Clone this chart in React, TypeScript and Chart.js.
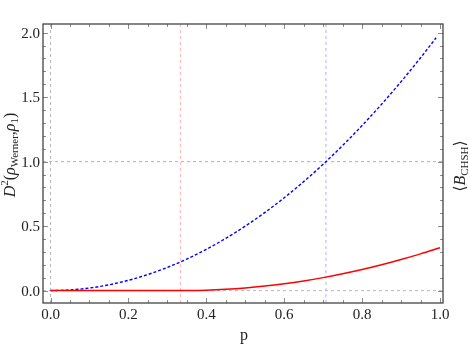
import React, { useEffect, useRef } from "react";
import { Chart, registerables } from "chart.js";

Chart.register(...registerables);

// ---- data ----
const blueP = [0, 0.05, 0.1, 0.15, 0.2, 0.25, 0.3, 0.35, 0.4, 0.45, 0.5, 0.55, 0.6, 0.65, 0.7, 0.75, 0.8, 0.85, 0.9, 0.95, 0.99];
const blueD = [0, 0.005, 0.02, 0.045, 0.08, 0.125, 0.18, 0.245, 0.32, 0.405, 0.5, 0.605, 0.72, 0.845, 0.98, 1.125, 1.28, 1.445, 1.62, 1.805, 1.96];
const redP = [0, 0.1, 0.2, 0.3, 0.333, 0.35, 0.4, 0.45, 0.5, 0.55, 0.6, 0.65, 0.7, 0.75, 0.8, 0.85, 0.9, 0.95, 1.0];
const redD = [0, 0, 0, 0, 0, 0.0002, 0.0033, 0.0102, 0.0208, 0.0352, 0.0533, 0.0752, 0.1008, 0.13, 0.163, 0.2, 0.241, 0.285, 0.333];
const refVertical = [0, 0.3333, 0.7071];
const refHorizontal = [0, 1];
const xTickLabels = ["0.0", "0.2", "0.4", "0.6", "0.8", "1.0"];
const xTickValues = [0, 0.2, 0.4, 0.6, 0.8, 1.0];
const yTickLabels = ["0.0", "0.5", "1.0", "1.5", "2.0"];
const yTickValues = [0, 0.5, 1.0, 1.5, 2.0];

const X_MIN = -0.0193;
const X_MAX = 1.0077;
const Y_MIN = -0.096;
const Y_MAX = 2.067;

const SERIF = '"Liberation Serif", "Times New Roman", "DejaVu Serif", serif';

function drawPieces(ctx: CanvasRenderingContext2D, pieces: { t: string; font: string; dy: number }[], cx: number, cy: number) {
  let total = 0;
  const widths = pieces.map((p) => {
    ctx.font = p.font;
    const w = ctx.measureText(p.t).width;
    total += w;
    return w;
  });
  ctx.save();
  ctx.translate(cx, cy);
  ctx.rotate(-Math.PI / 2);
  ctx.textBaseline = "alphabetic";
  ctx.textAlign = "left";
  ctx.fillStyle = "#222";
  let x = -total / 2;
  pieces.forEach((p, i) => {
    ctx.font = p.font;
    ctx.fillText(p.t, x, 5 + p.dy);
    x += widths[i];
  });
  ctx.restore();
}

const framePlugin = {
  id: "framePlugin",
  afterDraw(chart: any) {
    const ctx: CanvasRenderingContext2D = chart.ctx;
    const { left, right, top, bottom } = chart.chartArea;
    const xs = chart.scales.x;
    const ys = chart.scales.y;
    ctx.save();
    // ticks
    ctx.strokeStyle = "#8a8a8a";
    ctx.lineWidth = 1;
    for (let i = 0; i <= 20; i++) {
      const v = i * 0.05;
      const px = Math.round(xs.getPixelForValue(v)) + 0.5;
      const major = i % 4 === 0;
      const len = major ? 5 : 3;
      ctx.beginPath();
      ctx.moveTo(px, bottom);
      ctx.lineTo(px, bottom - len);
      ctx.moveTo(px, top);
      ctx.lineTo(px, top + len);
      ctx.stroke();
    }
    for (let i = 0; i <= 20; i++) {
      const v = i * 0.1;
      const py = Math.round(ys.getPixelForValue(v)) + 0.5;
      const major = i % 5 === 0;
      const len = major ? 5 : 3;
      ctx.beginPath();
      ctx.moveTo(left, py);
      ctx.lineTo(left + len, py);
      ctx.moveTo(right, py);
      ctx.lineTo(right - len, py);
      ctx.stroke();
    }
    // frame
    ctx.strokeStyle = "#444";
    ctx.lineWidth = 1.3;
    ctx.strokeRect(left, top, right - left, bottom - top);

    // tick labels
    ctx.fillStyle = "#222";
    ctx.font = "15px " + SERIF;
    ctx.textAlign = "center";
    ctx.textBaseline = "middle";
    xTickValues.forEach((v, i) => {
      ctx.fillText(xTickLabels[i], xs.getPixelForValue(v), 315);
    });
    ctx.textAlign = "right";
    yTickValues.forEach((v, i) => {
      ctx.fillText(yTickLabels[i], left - 3, ys.getPixelForValue(v) + 1);
    });

    // x title
    ctx.font = "16px " + SERIF;
    ctx.textAlign = "center";
    ctx.textBaseline = "alphabetic";
    ctx.fillText("p", 244, 340);

    // left title
    drawPieces(
      ctx,
      [
        { t: "D", font: "italic 16px " + SERIF, dy: 0 },
        { t: "2", font: "11px " + SERIF, dy: -7 },
        { t: "(", font: "16px " + SERIF, dy: 0 },
        { t: "ρ", font: "italic 16px " + SERIF, dy: 0 },
        { t: "Werner", font: "11px " + SERIF, dy: 3 },
        { t: ",", font: "16px " + SERIF, dy: 0 },
        { t: "ρ", font: "italic 16px " + SERIF, dy: 0 },
        { t: "1", font: "11px " + SERIF, dy: 3 },
        { t: ")", font: "16px " + SERIF, dy: 0 },
      ],
      10,
      155
    );
    // right title
    drawPieces(
      ctx,
      [
        { t: "⟨", font: "16px " + SERIF, dy: 0 },
        { t: "B", font: "italic 16px " + SERIF, dy: 0 },
        { t: "CHSH", font: "11px " + SERIF, dy: 3 },
        { t: "⟩", font: "16px " + SERIF, dy: 0 },
      ],
      460,
      166
    );
    ctx.restore();
  },
};

export default function App() {
  const ref = useRef<HTMLCanvasElement | null>(null);
  useEffect(() => {
    document.body.style.margin = "0";
    const canvas = ref.current;
    if (!canvas) return;
    const refSets: any[] = [];
    const vColors = ["#b8b8b8", "#ffb0b0", "#b0b0ff"];
    refVertical.forEach((v, i) => {
      refSets.push({
        data: [
          { x: v, y: Y_MIN },
          { x: v, y: Y_MAX },
        ],
        borderColor: vColors[i],
        borderWidth: 1,
        borderDash: [3, 3],
        pointRadius: 0,
        tension: 0,
        order: 3,
      });
    });
    const hColors = ["#b8b8b8", "#aaaaee"];
    refHorizontal.forEach((v, i) => {
      refSets.push({
        data: [
          { x: X_MIN, y: v },
          { x: X_MAX, y: v },
        ],
        borderColor: hColors[i],
        borderWidth: 1,
        borderDash: [3, 3],
        pointRadius: 0,
        tension: 0,
        order: 3,
      });
    });
    const chart = new Chart(canvas, {
      type: "line",
      data: {
        datasets: [
          {
            label: "red",
            data: redP.map((p, i) => ({ x: p, y: redD[i] })),
            borderColor: "#ff0000",
            borderWidth: 1.5,
            pointRadius: 0,
            cubicInterpolationMode: "monotone",
            order: 0,
          },
          {
            label: "blue",
            data: blueP.map((p, i) => ({ x: p, y: blueD[i] })),
            borderColor: "#0000ff",
            borderWidth: 1.4,
            borderDash: [3, 2],
            pointRadius: 0,
            cubicInterpolationMode: "monotone",
            order: 1,
          },
          ...refSets,
        ],
      },
      options: {
        animation: false,
        responsive: false,
        maintainAspectRatio: false,
        layout: { padding: { left: 43, top: 24, right: 26, bottom: 43 } },
        plugins: { legend: { display: false }, tooltip: { enabled: false } },
        scales: {
          x: { type: "linear", min: X_MIN, max: X_MAX, display: false },
          y: { type: "linear", min: Y_MIN, max: Y_MAX, display: false },
        },
      },
      plugins: [framePlugin],
    } as any);
    return () => chart.destroy();
  }, []);
  return (
    <div style={{ position: "absolute", left: 0, top: 0, width: 469, height: 346, background: "#fff" }}>
      <canvas ref={ref} width={469} height={346} style={{ width: 469, height: 346 }} />
    </div>
  );
}
